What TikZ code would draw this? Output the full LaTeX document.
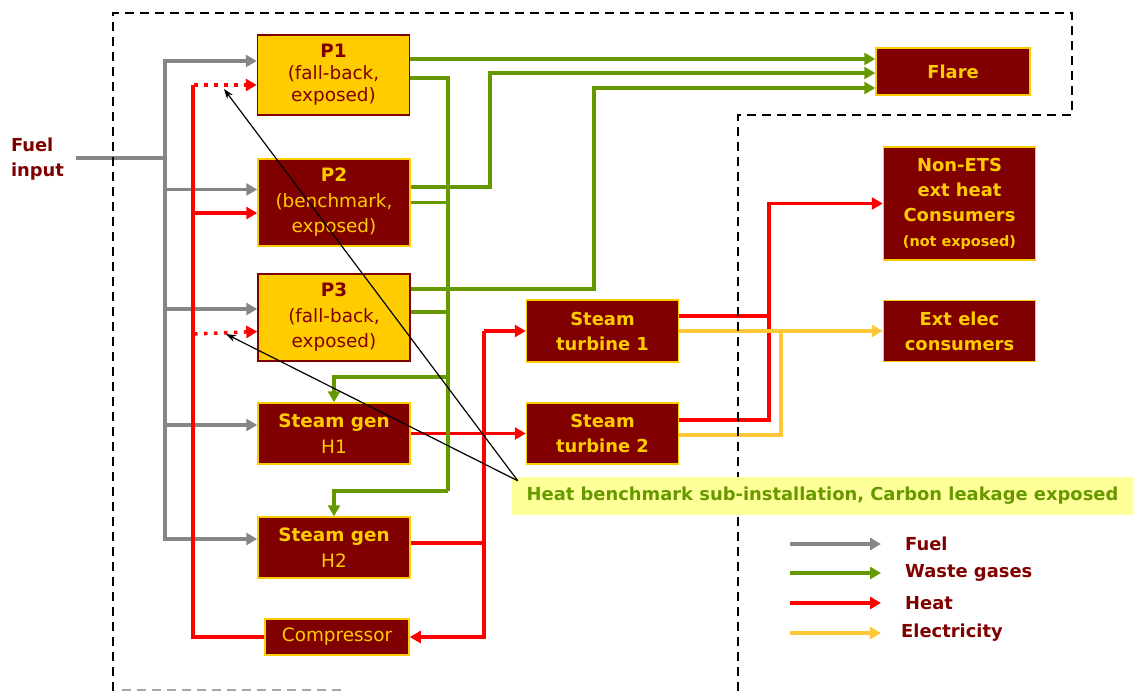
\documentclass[tikz,border=0pt]{standalone}
\usepackage{fontspec}
\setmainfont{DejaVu Sans}
\usetikzlibrary{arrows.meta}

\definecolor{boxred}{HTML}{800000}
\definecolor{boxyellow}{HTML}{FFCC00}
\definecolor{fuelgrey}{HTML}{868686}
\definecolor{gasgreen}{HTML}{669900}
\definecolor{heatred}{HTML}{FF0000}
\definecolor{elecyellow}{HTML}{FFC838}
\definecolor{notefill}{HTML}{FFFF99}

\tikzset{
	box/.style = {draw, line width=1.5pt, minimum width=152pt, align=center, inner sep=0pt, font=\fontsize{18.4}{25.5}\selectfont},
	heavy/.style = {font=\fontsize{17.9}{25}\selectfont\bfseries},
	dark/.style = {box, fill=boxred, draw=boxyellow, text=boxyellow},
	light/.style = {box, fill=boxyellow, draw=boxred, text=boxred},
	flow/.style = {line width=3.5pt, >={Triangle[length=11pt,width=12pt]}},
	fuel/.style = {flow, draw=fuelgrey},
	gas/.style = {flow, draw=gasgreen},
	heat/.style = {flow, draw=heatred},
	elec/.style = {flow, draw=elecyellow},
	dots/.style = {dash pattern=on 3.5pt off 6.5pt, dash phase=-1pt},
	fence/.style = {line width=2.2pt, dash pattern=on 9pt off 6pt},
	pointer/.style = {line width=1.2pt, -{Stealth[length=10pt,width=7pt]}},
	legend/.style = {heavy, text=boxred, anchor=west, inner sep=0pt}
}

\begin{document}
\begin{tikzpicture}[x=1pt, y=-1pt]

	\useasboundingbox (0,0) rectangle (1133,691);

	\node[light, minimum height=80pt, font=\fontsize{18.4}{22}\selectfont] (p1) at (333.5,75) {\textbf{P1}\\(fall-back,\\exposed)};
	\node[dark, minimum height=87pt] (p2) at (334,202.5) {\textbf{P2}\\(benchmark,\\exposed)};
	\node[light, minimum height=87pt] (p3) at (334,317.5) {\textbf{P3}\\(fall-back,\\exposed)};
	\node[dark, minimum height=61pt] (h1) at (334,433.5) {\textbf{Steam gen}\\H1};
	\node[dark, minimum height=61pt] (h2) at (334,547.5) {\textbf{Steam gen}\\H2};
	\node[dark, minimum width=144pt, minimum height=36pt] (comp) at (337,637) {Compressor};

	\node[dark, heavy, minimum height=62pt] (st1) at (602.5,331) {Steam\\turbine 1};
	\node[dark, heavy, minimum height=61pt] (st2) at (602.5,433.5) {Steam\\turbine 2};

	\node[dark, heavy, minimum width=154pt, minimum height=47pt] (flare) at (953,71.5) {Flare};
	\node[dark, heavy, minimum height=113pt] (nonets) at (959.5,203.5) {Non-ETS\\ext heat\\Consumers\\{\fontsize{14.4}{21}\selectfont(not exposed)}};
	\node[dark, heavy, minimum height=61pt] (extelec) at (959.5,331) {Ext elec\\consumers};

	\node[heavy, text=boxred, align=left, inner sep=0pt] (fuelin) at (37.5,159) {Fuel\\input};

	\coordinate (fb) at (165,158);
	\coordinate (hl) at (193,85);
	\coordinate (hr) at (484,331);
	\coordinate (hx) at (769,420);
	\coordinate (ex) at (781,331);
	\coordinate (g1) at (448,377);
	\coordinate (gbot) at (448,491);
	\coordinate (gr2) at (490,73);
	\coordinate (gr3) at (594,88);
	\coordinate (d1) at (224,89);
	\coordinate (d3) at (226,334);

	\draw[fuel, shorten <=12pt] (fuelin.east |- fb) -- (fb);
	\draw[fuel, <-] ([yshift=14pt]p1.west) -| (fb);
	\draw[fuel, <-] ([yshift=13pt]p2.west) -| (fb);
	\draw[fuel, <-] ([yshift=8.5pt]p3.west) -| (fb);
	\draw[fuel, <-] ([yshift=8.5pt]h1.west) -| (fb);
	\draw[fuel, <-] ([yshift=8.5pt]h2.west) -| (fb);

	\draw[heat] (hl) |- (comp.west);
	\draw[heat, dots, ->] (hl) -- ([yshift=-10pt]p1.west);
	\draw[heat, <-] ([yshift=-10.5pt]p2.west) -| (hl);
	\draw[heat, dots, ->] (hl |- d3) -- ([yshift=-14pt]p3.west);

	\draw[heat, ->] (hr) -- (st1.west);
	\draw[heat, ->] (hr) |- (comp.east);
	\draw[heat, ->] (h1.east) -- (st2.west);
	\draw[heat] ([yshift=4.5pt]h2.east) -| (hr);

	\draw[heat] ([yshift=15pt]st1.east) -| (hx);
	\draw[heat, ->] ([yshift=13.5pt]st2.east) -| (hx |- nonets.west) -- (nonets.west);

	\draw[elec, ->] (st1.east) -- (extelec.west);
	\draw[elec] ([yshift=-1.5pt]st2.east) -| (ex);

	\draw[gas, ->] ([yshift=16pt]p1.east) -- ([yshift=12.5pt]flare.west);
	\draw[gas, ->] ([yshift=15.5pt]p2.east) -| (gr2) -- ([yshift=-1.5pt]flare.west);
	\draw[gas, ->] ([yshift=28.5pt]p3.east) -| (gr3) -- ([yshift=-16.5pt]flare.west);
	\draw[gas] ([yshift=-3pt]p1.east) -| (gbot);
	\draw[gas] (p2.east) -| (gbot);
	\draw[gas] ([yshift=5.5pt]p3.east) -| (gbot);
	\draw[gas, ->] (g1) -| (h1.north);
	\draw[gas, ->] (gbot) -| (h2.north);

	\draw[fence] (113,691) -- (113,13) -- (1072,13) -- (1072,115) -- (738,115) -- (738,691);
	\draw[fence, draw=gray!70] (122,690) -- (345,690);

	\node[heavy, fill=notefill, text=gasgreen, minimum width=621pt, minimum height=38pt, inner sep=0pt] (bench) at (822.5,496) {Heat benchmark sub-installation, Carbon leakage exposed};

	\node[legend] (lfuel) at (905,544) {Fuel};
	\node[legend] (lgas) at (905,573) {Waste gases};
	\node[legend] (lheat) at (905,603) {Heat};
	\node[legend] (lelec) at (901,633) {Electricity};
	\draw[fuel, ->] ([xshift=-115pt]lfuel.west) -- ([xshift=-24pt]lfuel.west);
	\draw[gas, ->] ([xshift=-115pt]lgas.west) -- ([xshift=-24pt]lgas.west);
	\draw[heat, ->] ([xshift=-115pt]lheat.west) -- ([xshift=-24pt]lheat.west);
	\draw[elec, ->] ([xshift=-111pt]lelec.west) -- ([xshift=-20pt]lelec.west);

	\draw[pointer] ([xshift=6pt,yshift=-4pt]bench.north west) -- (d1);
	\draw[pointer] ([xshift=6pt,yshift=-4pt]bench.north west) -- (d3);

\end{tikzpicture}
\end{document}
